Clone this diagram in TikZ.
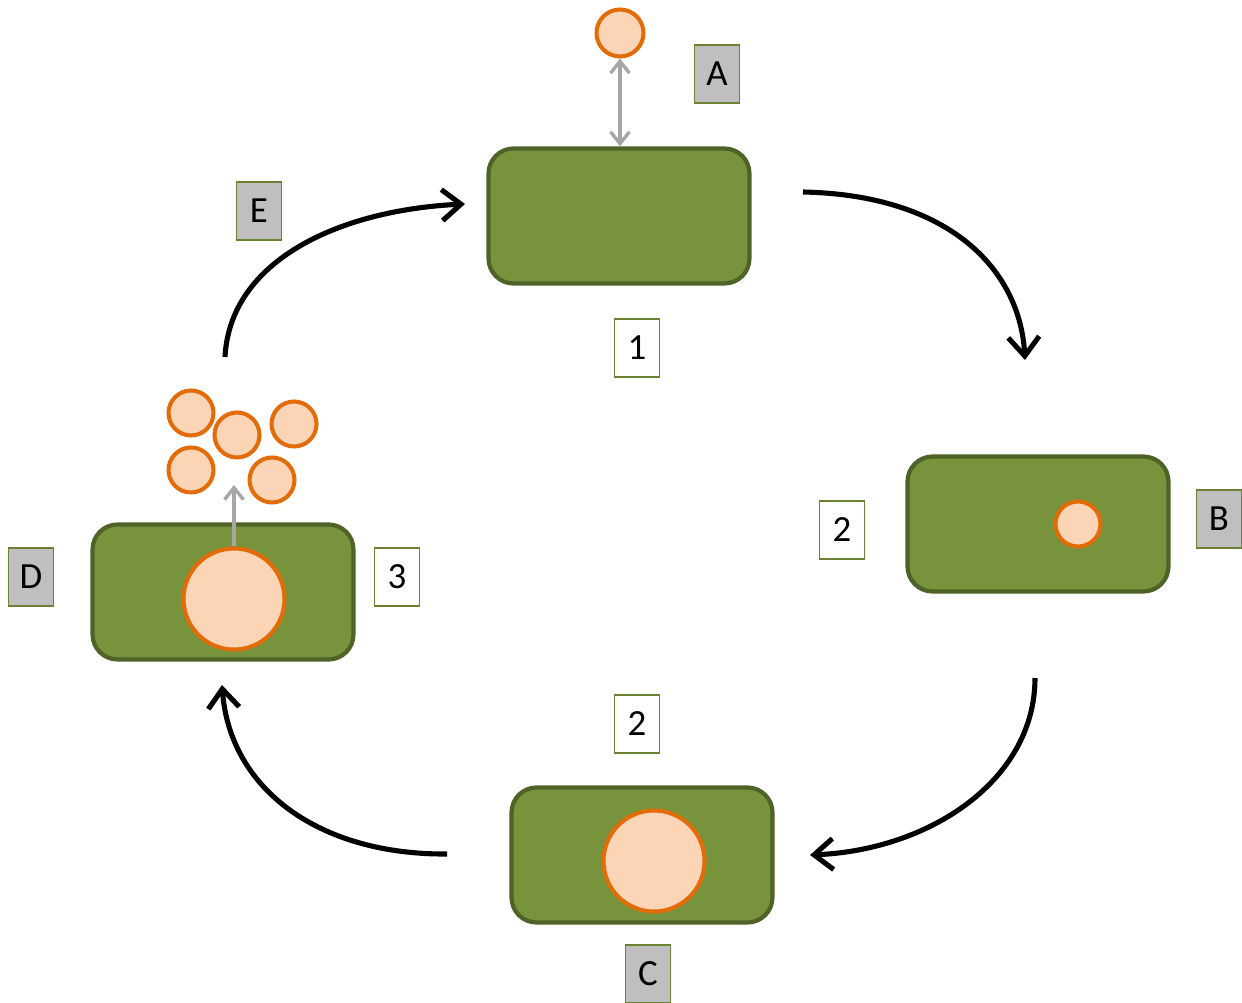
\documentclass[tikz,border=0pt]{standalone}
\usepackage{fontspec}
\setmainfont{Carlito}
\usetikzlibrary{shapes}
\usetikzlibrary {arrows.meta}

\definecolor{cellgreen}{HTML}{77933C}
\definecolor{celledge}{HTML}{4F6228}
\definecolor{dotorange}{HTML}{E36C09}
\definecolor{dotfill}{HTML}{FBD5B5}
\definecolor{tagedge}{HTML}{6A8232}

\tikzset{
  cell/.style={rectangle,draw=celledge,line width=2.4pt,rounded corners=0.5cm,fill=cellgreen,minimum width=5.22cm,minimum height=2.7cm},
  dot/.style={circle,draw=dotorange,line width=2.3pt,fill=dotfill,inner sep=0pt,minimum size=#1},
  tag/.style={rectangle,draw=tagedge,line width=0.8pt,minimum width=0.9cm,minimum height=1.16cm,inner sep=0pt,font=\fontsize{21}{24}\selectfont},
  lettertag/.style={tag,fill=black!25},
  cycle/.style={line width=2.9pt,-{Straight Barb[length=3.8mm,width=6.2mm,line width=2.9pt]}},
  flow/.style={draw=black!35,line width=1.9pt}
}

\begin{document}
\begin{tikzpicture}[x=0.02cm,y=-0.02cm]
\useasboundingbox (0,0) rectangle (1242,1003);

% cells
\node[cell] (cellone) at (619,216){};
\node[cell] (celltwo) at (1038,524){};
\node[cell] (cellthree) at (642,855){};
\node[cell] (cellfour) at (223,592){};

% circles
\node[dot=0.94cm] (free) at (620,33){};
\node[dot=0.9cm] (inB) at (1078,524){};
\node[dot=2.02cm] (inC) at (654,861){};
\node[dot=2.02cm] (inD) at (234,599){};
\node[dot=0.9cm] (outa) at (191,413){};
\node[dot=0.9cm] (outb) at (237,435){};
\node[dot=0.9cm] (outc) at (294,424){};
\node[dot=0.9cm] (outd) at (191,470){};
\node[dot=0.9cm] (oute) at (272,480){};

% small arrows
\draw[flow,{Straight Barb[length=2.4mm,width=3.8mm]}-{Straight Barb[length=2.4mm,width=3.8mm]}] (free.south) -- (cellone.north -| free.south);
\coordinate (release) at (234,485);
\draw[flow,-{Straight Barb[length=2.4mm,width=3.8mm]}] (inD.north) -- (release);

% tags
\node[lettertag] (tA) at (717,74){A};
\node[lettertag] (tB) at (1219,519){B};
\node[lettertag] (tC) at (648,974){C};
\node[lettertag] (tD) at (31,577){D};
\node[lettertag] (tE) at (259,211){E};
\node[tag] (tone) at (637,348){1};
\node[tag] (ttwoa) at (842,530){2};
\node[tag] (ttwob) at (637,724){2};
\node[tag] (tthree) at (397,577){3};

% cycle arrows
\coordinate (p1) at (803,192);
\coordinate (p2) at (1025,360);
\coordinate (p3) at (1035,678);
\coordinate (p4) at (810,855);
\coordinate (p5) at (447,854);
\coordinate (p6) at (222,685);
\coordinate (p7) at (225,357);
\coordinate (p8) at (465,204);
\draw[cycle] (p1) .. controls (950,195) and (1020,270) .. (p2);
\draw[cycle] (p3) .. controls (1035,780) and (930,850) .. (p4);
\draw[cycle] (p5) .. controls (320,855) and (230,790) .. (p6);
\draw[cycle] (p7) .. controls (230,260) and (340,210) .. (p8);

\end{tikzpicture}
\end{document}
